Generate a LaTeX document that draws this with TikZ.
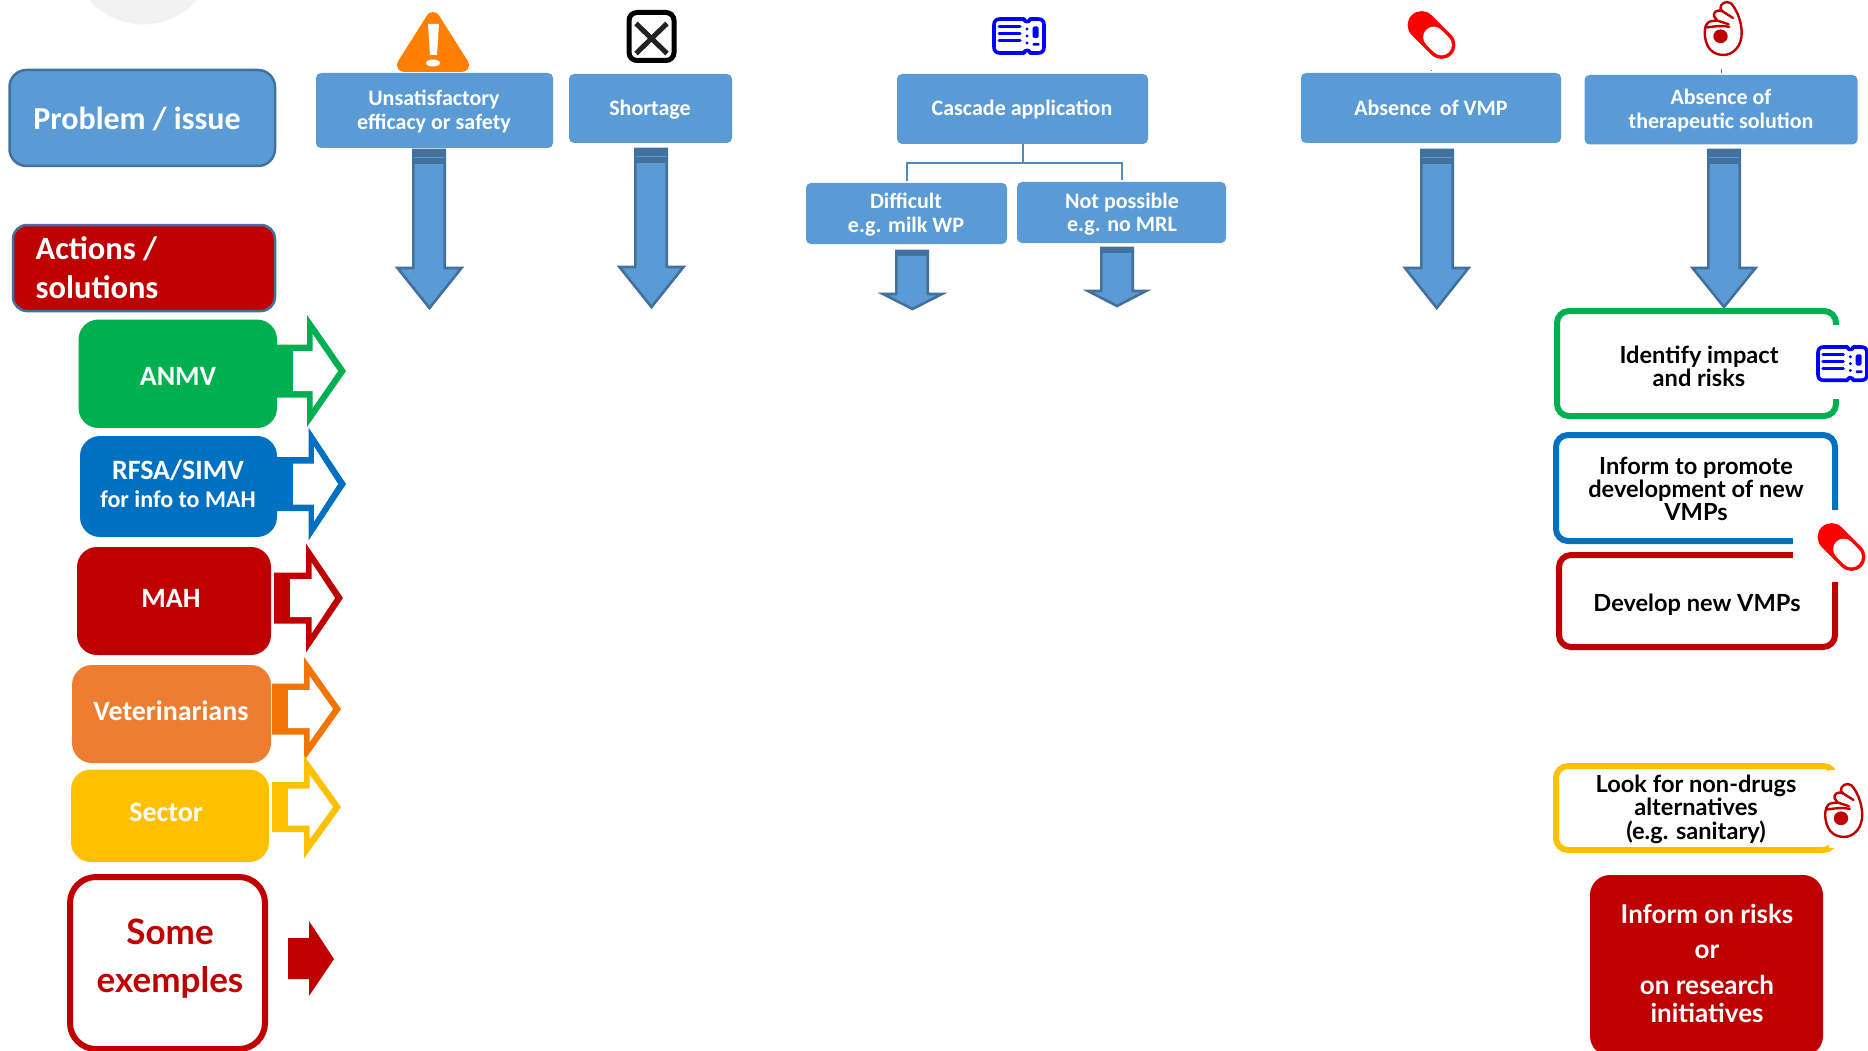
\documentclass[tikz,border=0pt]{standalone}
\usepackage{fontspec}
\setmainfont{Carlito}
\newfontfamily\mfont{Lato}
\usetikzlibrary{calc}
\definecolor{hdblue}{HTML}{5B9BD5}
\definecolor{hdedge}{HTML}{41719C}
\definecolor{crimson}{HTML}{C00000}
\definecolor{grn}{HTML}{00B050}
\definecolor{azure}{HTML}{0070C0}
\definecolor{amber}{HTML}{FFC000}
\definecolor{vetfill}{HTML}{ED7D31}
\definecolor{vetarrow}{HTML}{F27405}
\definecolor{warnor}{HTML}{FF8000}
\definecolor{tick}{HTML}{0000FF}
\definecolor{pillred}{HTML}{FF0000}
\newcommand{\tb}[3]{\raisebox{#2pt}[0pt][0pt]{\makebox[0pt][c]{\hspace*{#1pt}\begin{tabular}[b]{@{}c@{}}#3\end{tabular}}}}
% \boxnode[style]{name}{x0}{y0}{x1}{y1}{text x}{last baseline}
\newcommand{\BOXTEXT}{}
\newcommand{\boxnode}[8][]{%
  \pgfmathsetmacro{\bcx}{(#3+#5)/2}\pgfmathsetmacro{\bcy}{(#4+#6)/2}%
  \pgfmathsetmacro{\bw}{#5-#3}\pgfmathsetmacro{\bh}{#6-#4}%
  \pgfmathsetmacro{\bdx}{2*(#7-\bcx)}\pgfmathsetmacro{\bdy}{\bcy-(#8)}%
  \node[basebox,#1,minimum width=\bw pt,minimum height=\bh pt] (#2) at (\bcx,\bcy) {\tb{\bdx}{\bdy}{\BOXTEXT}};}
% down block arrow: shaft x0 x1, top, head y, tip y, head x0 x1, band height, light line colour
\newcommand{\blockdown}[9]{%
  \pgfmathsetmacro{\tipx}{(#6+#7)/2}%
  \draw[downstyle] (#1+1.3,#3) -- (#2-1.3,#3) -- (#2-1.3,#4) -- (#7,#4) -- (\tipx,#5) -- (#6,#4) -- (#1+1.3,#4) -- cycle;
  \fill[hdedge] (#1,#3-1) rectangle (#2,#3+#8);
  \draw[#9,line width=1pt] (#1+2,#3+#8*0.55) -- (#2-2,#3+#8*0.55);}
% outlined block arrow: colour, x0, inner x, head x, tip x, centre y, shaft half, head half
\newcommand{\sidearrow}[8]{%
  \fill[#1] (#2,#6-#7) -- (#4,#6-#7) -- (#4,#6-#8) -- (#5,#6) -- (#4,#6+#8) -- (#4,#6+#7) -- (#2,#6+#7) -- cycle;
  \fill[white] (#3,#6-#7+6.5) -- (#4+5.5,#6-#7+6.5) -- (#4+5.5,#6-#8+19) -- (#5-8,#6) -- (#4+5.5,#6+#8-19) -- (#4+5.5,#6+#7-6.5) -- (#3,#6+#7-6.5) -- cycle;}
\newcommand{\ticketicon}[3]{%
  \begin{scope}[shift={(#1,#2)},x=#3pt,y=-#3pt]
    \draw[tick,line width=3.6pt,fill=white,line join=round]
      (8,2) -- (32,2) .. controls (32,5.5) and (38,5.5) .. (38,2) -- (46,2)
      .. controls (50,2) and (52,4) .. (52,8) -- (52,30) .. controls (52,34) and (50,36) .. (46,36)
      -- (38,36) .. controls (38,32.5) and (32,32.5) .. (32,36) -- (8,36)
      .. controls (4,36) and (2,34) .. (2,30) -- (2,8) .. controls (2,4) and (4,2) .. (8,2) -- cycle;
    \foreach \ly in {10,17,24} \draw[tick,line width=3pt,line cap=round] (7,\ly) -- (28,\ly);
    \foreach \ly in {12,19,26} \fill[tick] (35,\ly) circle[radius=1.7];
    \fill[tick,rounded corners=1.5pt] (40.5,9.5) rectangle (46.5,21);
    \fill[tick,rounded corners=1pt] (40.5,26) rectangle (47.5,28.6);
  \end{scope}}
\newcommand{\pillicon}[2]{%
  \begin{scope}[shift={(#1,#2)},x=1pt,y=1pt,rotate=-45]
    \fill[pillred] (-14,14) -- (14,14) arc[start angle=90,end angle=-90,radius=14] -- (-14,-14) arc[start angle=270,end angle=90,radius=14] -- cycle;
    \fill[white] (3,10.5) -- (14,10.5) arc[start angle=90,end angle=-90,radius=10.5] -- (3,-10.5) arc[start angle=270,end angle=90,radius=10.5] -- cycle;
  \end{scope}}
\newcommand{\handicon}[2]{%
  \begin{scope}[shift={(#1,#2)},x=0.4pt,y=-0.327pt,crimson,line width=2.4pt,line join=round,line cap=round]
    \draw[fill=white] (34,150) .. controls (28,125) and (30,100) .. (38,92)
      .. controls (42,86) and (52,86) .. (62,85)
      -- (54,72) .. controls (50,60) and (62,50) .. (74,56)
      -- (70,48) .. controls (68,34) and (84,22) .. (96,32)
      .. controls (110,50) and (122,85) .. (123,120)
      .. controls (124,165) and (100,190) .. (78,190)
      .. controls (55,190) and (40,175) .. (34,150) -- cycle;
    \draw (36,106) .. controls (55,102) and (75,100) .. (92,104);
    \draw (74,56) -- (101,77);
    \draw (62,85) -- (90,96);
    \fill (70,133) ellipse[x radius=18,y radius=21];
  \end{scope}}
\tikzset{
  basebox/.style={shape=rectangle,inner sep=0pt,outer sep=0pt,align=center},
  hdbox/.style={fill=hdblue,rounded corners=5pt,text=white,font=\fontsize{22}{24}\selectfont\bfseries},
  roleb/.style={rounded corners=20pt,text=white,font=\fontsize{28}{28}\selectfont\bfseries},
  tbox/.style={fill=white,line width=6pt,rounded corners=12pt,text=black,font=\mfont\fontsize{23.6}{23}\selectfont\bfseries},
  downstyle/.style={fill=hdblue,draw=hdedge,line width=2.6pt,line join=miter},
  link/.style={draw=hdblue!90!black,line width=2pt}
}
\begin{document}
\begin{tikzpicture}[x=1pt,y=-1pt]
\clip (0,0) rectangle (1868,1051);
\fill[white] (0,0) rectangle (1868,1051);
\fill[black!5] (143,-46) circle[radius=70.5];

% header / label boxes
\renewcommand{\BOXTEXT}{Problem / issue}
\boxnode[draw=hdedge,fill=hdblue,line width=2.5pt,rounded corners=17pt,text=white,font=\fontsize{32}{36}\selectfont\bfseries]{problem}{9.5}{70}{275}{166}{137}{130}
\renewcommand{\BOXTEXT}{\begin{tabular}[b]{@{}l@{}}Actions /\\ solutions\end{tabular}}
\boxnode[draw=hdedge,fill=crimson,line width=2.5pt,rounded corners=14pt,text=white,font=\fontsize{32.5}{39}\selectfont\bfseries]{actions}{13}{225}{275}{311}{97}{298}

\renewcommand{\BOXTEXT}{Unsatisfactory\\ efficacy or safety}
\boxnode[hdbox]{unsat}{316}{73}{553}{148}{434}{130}
\renewcommand{\BOXTEXT}{Shortage}
\boxnode[hdbox]{short}{569}{74}{732}{143}{650}{116}
\renewcommand{\BOXTEXT}{Cascade application}
\boxnode[hdbox]{cascade}{897}{74}{1148}{144}{1022}{116}
\renewcommand{\BOXTEXT}{Difficult\\ e.g. milk WP}
\boxnode[hdbox]{difficult}{806}{183}{1007}{244}{906}{233}
\renewcommand{\BOXTEXT}{Not possible\\ e.g. no MRL}
\boxnode[hdbox]{notposs}{1017}{182}{1226}{243}{1122}{232}
\renewcommand{\BOXTEXT}{Absence\, of VMP}
\boxnode[hdbox]{absvmp}{1301}{73}{1561}{143}{1431}{116}
\renewcommand{\BOXTEXT}{Absence of\\ therapeutic solution}
\boxnode[hdbox]{absther}{1584.5}{75}{1857.5}{144.5}{1721}{129}

% cascade connectors
\coordinate (split) at ($(cascade.south)+(0,19)$);
\draw[link] (cascade.south) -- (split);
\draw[link,shorten >=2pt] (split) -| (difficult.north);
\draw[link,shorten >=2pt] (split) -| (notposs.north);

% down arrows
\blockdown{412}{446}{150}{268}{308}{397.5}{461.5}{14}{hdblue}
\blockdown{634}{668}{149}{267}{307}{619.5}{683.5}{14}{hdblue}
\blockdown{895}{929}{251}{294}{309}{883}{942}{5}{hdedge}
\blockdown{1100}{1134}{248}{291}{306}{1088}{1146}{5}{hdedge}
\blockdown{1420}{1454}{150}{268}{308}{1405}{1468.5}{14}{hdblue}
\blockdown{1707}{1741}{150}{268}{307}{1692.5}{1755.5}{14}{hdblue}

% small ticks above the last two boxes
\fill[hdedge] (1430.5,70) rectangle (1431.5,71.5);
\fill[hdedge] (1720.5,69) rectangle (1721.8,73);

% actors
\sidearrow{grn}{270}{293}{307}{346}{371}{26.5}{56}
\sidearrow{azure}{270}{293}{308.5}{346}{484}{27}{56.5}
\sidearrow{crimson}{274}{290}{306}{343}{598}{25.5}{54.5}
\sidearrow{vetarrow}{272}{288}{304}{341}{709}{25.5}{52}
\sidearrow{amber}{272}{288}{304}{341}{807}{25}{51.5}
\fill[crimson] (288,938) -- (309,938) -- (309,921) -- (334,959) -- (309,996) -- (309,979) -- (288,979) -- cycle;

\renewcommand{\BOXTEXT}{ANMV}
\boxnode[roleb,fill=grn]{anmv}{78.5}{319.5}{277}{428}{178}{385}
\renewcommand{\BOXTEXT}{\fontsize{28}{27}\selectfont RFSA/SIMV\\ \fontsize{24}{27}\selectfont for info to MAH}
\boxnode[roleb,fill=azure]{rfsa}{80}{436}{277}{537}{178}{507}
\renewcommand{\BOXTEXT}{MAH}
\boxnode[roleb,fill=crimson]{mah}{77}{547}{271}{655}{171}{607}
\renewcommand{\BOXTEXT}{Veterinarians}
\boxnode[roleb,fill=vetfill]{vets}{72}{665}{271}{763}{171}{720}
\renewcommand{\BOXTEXT}{Sector}
\boxnode[roleb,fill=amber]{sector}{71}{769.5}{269}{862}{166}{821}
\renewcommand{\BOXTEXT}{Some\\ exemples}
\boxnode[draw=crimson,fill=white,line width=6pt,rounded corners=26pt,text=crimson,font=\mfont\fontsize{35}{48}\selectfont\bfseries]{some}{70}{877}{265}{1049}{170}{992}

% action boxes
\renewcommand{\BOXTEXT}{Identify impact\\[-1.5pt] and risks}
\boxnode[tbox,draw=grn]{identify}{1557}{311}{1836}{416}{1699}{386}
\renewcommand{\BOXTEXT}{Inform to promote\\[-1.5pt] development of new\\[-1.5pt] VMPs}
\boxnode[tbox,draw=azure]{inform}{1556}{435}{1835}{541}{1696}{520}
\renewcommand{\BOXTEXT}{Develop new VMPs}
\boxnode[tbox,draw=crimson]{develop}{1559}{555}{1835}{647}{1697}{611}
\renewcommand{\BOXTEXT}{Look for non-drugs\\[-1.5pt] alternatives\\[-1.5pt] (e.g. sanitary)}
\boxnode[tbox,draw=amber]{look}{1556}{766}{1835}{850}{1696}{839}
\renewcommand{\BOXTEXT}{Inform on risks\\[8.5pt] or\\[8.5pt] on research\\ initiatives}
\boxnode[fill=crimson,rounded corners=20pt,text=white,font=\mfont\fontsize{26}{27}\selectfont\bfseries]{risks}{1590}{875}{1823}{1056}{1707}{1022}

% gaps left in the outlines for the icons
\fill[white] (1828,325) rectangle (1845,399);
\fill[white] (1793,510) rectangle (1845,582);
\fill[white] (1829,769.5) rectangle (1845,847.5);

% icons
\draw[warnor,fill=warnor,line width=14pt,line join=round] (433,19) -- (462,65) -- (404,65) -- cycle;
\fill[white] (428,24) -- (439,24) -- (437,55) -- (430,55) -- cycle;
\fill[white] (433,63) ellipse[x radius=7,y radius=3.5];
\draw[black,fill=white,line width=5pt,rounded corners=8pt] (629,12.5) rectangle (674,60.5);
\draw[black!87,line width=5pt] (636,23.5) -- (667,53.5) (667,23.5) -- (636,53.5);
\ticketicon{992}{17}{1}
\ticketicon{1816}{345}{0.98}
\pillicon{1431.5}{35}
\pillicon{1841.5}{547}
\handicon{1692.5}{-7.2}
\handicon{1813}{774.8}
\end{tikzpicture}
\end{document}
